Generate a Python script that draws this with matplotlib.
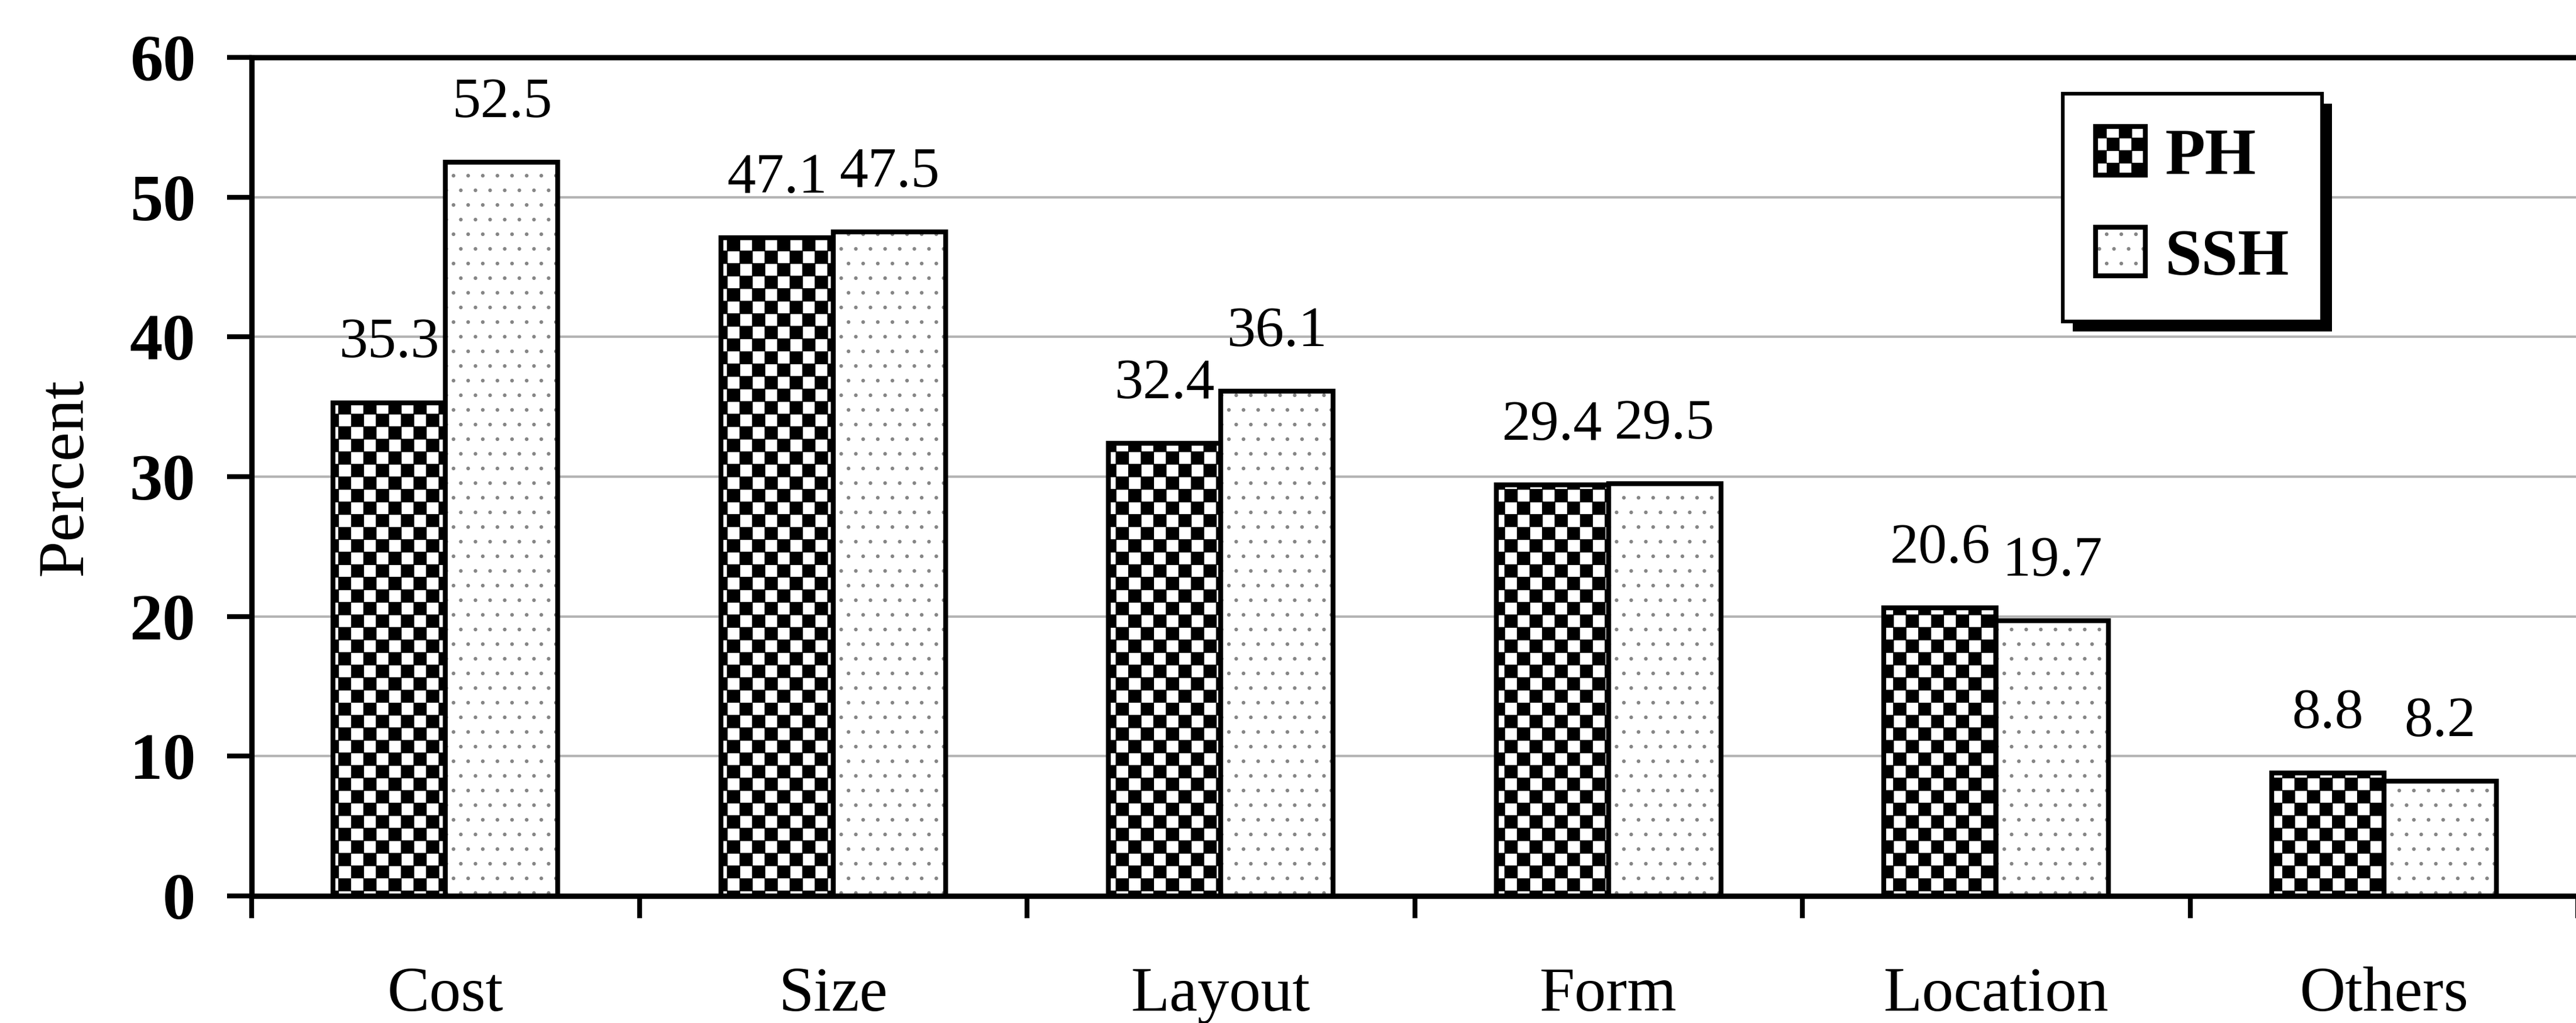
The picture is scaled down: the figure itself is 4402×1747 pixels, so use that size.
import numpy as np
import matplotlib.pyplot as plt
import matplotlib.hatch as mhatch
import matplotlib.patheffects as pe
from matplotlib.path import Path

categories = ["Cost", "Size", "Layout", "Form", "Location", "Others"]
ph_values = [35.3, 47.1, 32.4, 29.4, 20.6, 8.8]
ssh_values = [52.5, 47.5, 36.1, 29.5, 19.7, 8.2]
series_names = ["PH", "SSH"]
y_ticks = [0, 10, 20, 30, 40, 50, 60]


# checkerboard fill: swap the '*' hatch for filled squares
class CheckerHatch(mhatch.HatchPatternBase):
    cells = 14

    def __init__(self, hatch, density):
        n = self.cells
        self.num_vertices = (n * n // 2) * 5 if "*" in hatch else 0

    def set_vertices_and_codes(self, vertices, codes):
        n = self.cells
        s = 1.0 / n
        k = 0
        for i in range(n):
            for j in range(n):
                if (i + j) % 2:
                    continue
                x, y = j * s, i * s
                vertices[k:k + 5] = [(x, y), (x + s, y), (x + s, y + s), (x, y + s), (x, y)]
                codes[k:k + 5] = [Path.MOVETO, Path.LINETO, Path.LINETO,
                                  Path.LINETO, Path.CLOSEPOLY]
                k += 5


mhatch._hatch_types = [CheckerHatch if t is mhatch.Stars else t
                       for t in mhatch._hatch_types]

plt.rcParams["font.family"] = ["Liberation Serif", "DejaVu Serif"]
plt.rcParams["hatch.linewidth"] = 0.3

W, H, DPI = 4402, 1747, 300
fig = plt.figure(figsize=(W / DPI, H / DPI), dpi=DPI)
fig.patch.set_facecolor("white")
ax = fig.add_axes([430 / W, 1 - 1530 / H, (4405 - 430) / W, (1530 - 98) / H])

x = np.arange(len(categories))
w = 0.29

ph_bars = ax.bar(x - w / 2, ph_values, w, facecolor="white", edgecolor="black",
                 linewidth=2, hatch="*", zorder=3)
ssh_fill = ax.bar(x + w / 2, ssh_values, w, facecolor="white", edgecolor="#858585",
                  linewidth=0, hatch="..", zorder=3)
ssh_edge = ax.bar(x + w / 2, ssh_values, w, fill=False, edgecolor="black",
                  linewidth=2, zorder=4)

# value labels above each bar
for xs, vals in [(x - w / 2, ph_values), (x + w / 2, ssh_values)]:
    for xi, v in zip(xs, vals):
        ax.annotate(f"{v:.1f}", (xi, v), xytext=(0, 18.5), textcoords="offset points",
                    ha="center", va="baseline", fontsize=23.5)

ax.set_xlim(-0.5, len(categories) - 0.5)
ax.set_ylim(0, 60)
ax.set_yticks(y_ticks)
ax.set_yticklabels([str(t) for t in y_ticks], fontweight="bold", fontsize=27)
ax.tick_params(axis="y", direction="out", length=10, width=2, pad=13)

# ticks between groups, names centred under each group
ax.set_xticks(np.arange(-0.5, len(categories)), labels=[])
ax.tick_params(axis="x", which="major", direction="out", length=9, width=2)
ax.set_xticks(x, labels=categories, minor=True)
ax.tick_params(axis="x", which="minor", length=0, pad=29, labelsize=26)

ax.yaxis.grid(True, color="#b4b4b4", linewidth=1.0, zorder=0)
ax.set_axisbelow(True)

for side in ["left", "bottom", "top"]:
    ax.spines[side].set_linewidth(2.2)
ax.spines["right"].set_visible(False)

ax.set_ylabel("Percent", fontsize=27)
ax.yaxis.set_label_coords(-0.067, 0.5)

leg = ax.legend([ph_bars, (ssh_fill, ssh_edge)], series_names, loc="upper left",
                bbox_to_anchor=(0.7786, 0.9567), prop={"weight": "bold", "size": 27},
                fancybox=False, edgecolor="black", framealpha=1, borderpad=0.5,
                labelspacing=0.6, handlelength=0.75, handleheight=0.75,
                handletextpad=0.3, borderaxespad=0)
leg.get_frame().set_linewidth(1.5)
leg.get_frame().set_path_effects([
    pe.SimplePatchShadow(offset=(4, -4), shadow_rgbFace="black", alpha=1),
    pe.Normal()])

fig.savefig("out.png", dpi=DPI)
